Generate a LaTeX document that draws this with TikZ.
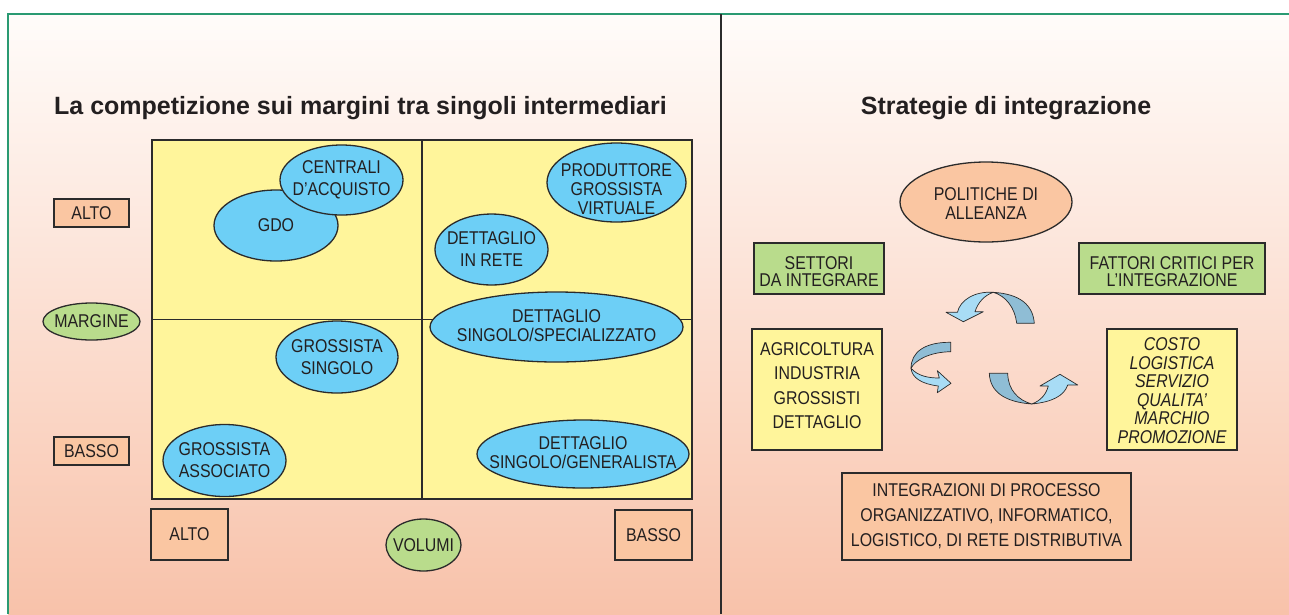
\documentclass[tikz,border=0pt]{standalone}
\usepackage{fontspec}
\setmainfont{Liberation Sans}
\newfontfamily\bodyfont{Liberation Sans}[FakeStretch=0.86]
\usetikzlibrary{shapes.geometric}
\definecolor{txt}{HTML}{231F20}
\definecolor{edge}{HTML}{2B2B2B}
\definecolor{frame}{HTML}{2A9A72}
\definecolor{bgtop}{HTML}{FFFCFA}
\definecolor{bgbot}{HTML}{F8C2AA}
\definecolor{gridyellow}{HTML}{FFF59B}
\definecolor{bluefill}{HTML}{6DCFF6}
\definecolor{peach}{HTML}{FAC6A2}
\definecolor{greenfill}{HTML}{B9DC8C}
\definecolor{arrowdark}{HTML}{8FBDD5}
\definecolor{arrowlight}{HTML}{A8DCF5}
\tikzset{
  body/.style={font=\bodyfont\fontsize{18.5}{19}\selectfont, text=txt, align=center},
  wide/.style={font=\bodyfont\fontsize{18.5}{22}\selectfont},
  every label/.style={body, inner sep=0pt},
  bubble/.style={ellipse, draw=edge, line width=1.3pt, fill=bluefill, inner sep=0pt},
  rbox/.style={body, rectangle, draw=edge, line width=1.3pt, inner sep=0pt},
  peachbox/.style={rbox, fill=peach},
  greenbox/.style={rbox, fill=greenfill},
  yellowbox/.style={rbox, fill=gridyellow},
  titletext/.style={font=\bfseries\fontsize{25}{28}\selectfont, text=txt, inner sep=0pt},
  ribbon/.style={draw=edge, line width=0.7pt, line join=round},
}
\begin{document}
\begin{tikzpicture}[x=1pt, y=-1pt]
\useasboundingbox (0,0) rectangle (1289,614);
\fill[white] (0,0) rectangle (1289,614);
\shade[top color=bgtop, bottom color=bgbot] (8,14) rectangle (1289,614);
\draw[frame, line width=2pt] (8,614) -- (8,14) -- (1289,14);
\coordinate (divtop) at (721,14);
\coordinate (divbot) at (721,614);
\draw[edge, line width=2.2pt] (divtop) -- (divbot);

% titles
\node[titletext] (title1) at (360.5,108.5) {La competizione sui margini tra singoli intermediari};
\node[titletext] (title2) at (1006,108.5) {Strategie di integrazione};

% quadrant grid
\node[rectangle, draw=edge, line width=1.5pt, fill=gridyellow, minimum width=540pt, minimum height=359pt, inner sep=0pt] (grid) at (422,319.5) {};
\draw[edge, line width=1.5pt] (grid.north) -- (grid.south);
\draw[edge, line width=1.5pt] (grid.west) -- (grid.east);

% bubbles
\node[bubble, minimum width=124pt, minimum height=71pt, label=center:GDO] (gdo) at (276,225.5) {};
\node[bubble, minimum width=123pt, minimum height=70pt, label={[wide]center:{CENTRALI\\D’ACQUISTO}}] (centrali) at (341.5,180) {};
\node[bubble, minimum width=139pt, minimum height=79pt, label={[yshift=-6.5pt]center:{PRODUTTORE\\GROSSISTA\\VIRTUALE}}] (produttore) at (616.5,182.5) {};
\node[bubble, minimum width=113pt, minimum height=71pt, label={[wide]center:{DETTAGLIO\\IN RETE}}] (rete) at (491.5,249.5) {};
\node[bubble, minimum width=253pt, minimum height=70pt, label={[yshift=1pt]center:{DETTAGLIO\\SINGOLO/SPECIALIZZATO}}] (specializzato) at (556.5,327) {};
\node[bubble, minimum width=122pt, minimum height=72pt, label={[wide]center:{GROSSISTA\\SINGOLO}}] (singolo) at (337,357) {};
\node[bubble, minimum width=123pt, minimum height=72pt, label={[wide]center:{GROSSISTA\\ASSOCIATO}}] (associato) at (224.5,460.5) {};
\node[bubble, minimum width=212pt, minimum height=68pt, label={[yshift=1pt]center:{DETTAGLIO\\SINGOLO/GENERALISTA}}] (generalista) at (583,454) {};

% axis labels
\node[peachbox, minimum width=75pt, minimum height=28pt] (altoy) at (91.5,213) {ALTO};
\node[ellipse, draw=edge, line width=1.3pt, fill=greenfill, inner sep=0pt, minimum width=97pt, minimum height=37pt, label=center:MARGINE] (margine) at (91.5,321.5) {};
\node[peachbox, minimum width=75pt, minimum height=28pt] (bassoy) at (91.5,451) {BASSO};
\node[peachbox, minimum width=77pt, minimum height=51pt] (altox) at (189.5,534.5) {ALTO};
\node[ellipse, draw=edge, line width=1.3pt, fill=greenfill, inner sep=0pt, minimum width=75pt, minimum height=52pt, label=center:VOLUMI] (volumi) at (423.5,545) {};
\node[peachbox, minimum width=77pt, minimum height=50pt] (bassox) at (653.5,535) {BASSO};

% right panel
\node[ellipse, draw=edge, line width=1.3pt, fill=peach, inner sep=0pt, minimum width=172pt, minimum height=80pt, label={[yshift=-1.5pt]center:{POLITICHE DI\\ALLEANZA}}] (politiche) at (986,202) {};
\node[greenbox, minimum width=130pt, minimum height=51pt, label={[font=\bodyfont\fontsize{18.5}{17}\selectfont, yshift=-3pt]center:{SETTORI\\DA INTEGRARE}}] (settori) at (819,268.5) {};
\node[greenbox, minimum width=186pt, minimum height=51pt, label={[font=\bodyfont\fontsize{18.5}{17}\selectfont, yshift=-3pt]center:{FATTORI CRITICI PER\\L’INTEGRAZIONE}}] (fattori) at (1172,268.5) {};
\node[yellowbox, minimum width=130pt, minimum height=121pt, label={[font=\bodyfont\fontsize{18.5}{24.5}\selectfont, yshift=4pt]center:{AGRICOLTURA\\INDUSTRIA\\GROSSISTI\\DETTAGLIO}}] (settlist) at (817,389.5) {};
\node[yellowbox, minimum width=130pt, minimum height=121pt, label={[font=\bodyfont\itshape\fontsize{18.5}{18.5}\selectfont, yshift=-1pt]center:{COSTO\\LOGISTICA\\SERVIZIO\\QUALITA’\\MARCHIO\\PROMOZIONE}}] (fattlist) at (1172,389.5) {};
\node[peachbox, minimum width=289pt, minimum height=87pt, font=\bodyfont\fontsize{18.5}{25}\selectfont] (integrazioni) at (986.5,516.5) {INTEGRAZIONI DI PROCESSO\\ORGANIZZATIVO, INFORMATICO,\\LOGISTICO, DI RETE DISTRIBUTIVA};

% curved ribbon arrows
% top arrow
\filldraw[ribbon, fill=arrowdark] (993.3,292.3) .. controls (1020,294) and (1033,305) .. (1034.3,323.3) -- (1016.7,323.3) .. controls (1015,308) and (1006,296) .. (993.3,292.3) -- cycle;
\filldraw[ribbon, fill=arrowlight] (993.3,292.3) .. controls (975,291) and (960,300) .. (957.5,312.2) -- (946,312.3) -- (963.3,321.7) -- (983.3,311.7) -- (975,311.7) .. controls (978,302) and (985,295) .. (993.3,292.3) -- cycle;
% left arrow
\filldraw[ribbon, fill=arrowdark] (950.7,342.3) .. controls (925,342) and (911,352) .. (911,368.3) .. controls (915,360) and (930,352) .. (950.7,351.7) -- cycle;
\filldraw[ribbon, fill=arrowlight] (911,368.3) .. controls (918,376) and (928,378) .. (939.3,378) -- (937.3,370.7) -- (951,383.3) -- (937.3,392.7) -- (938.3,386) .. controls (922,384) and (912,378) .. (911,368.3) -- cycle;
% bottom arrow
\filldraw[ribbon, fill=arrowdark] (989.3,373.3) -- (1007.7,373.3) .. controls (1008,390) and (1018,400) .. (1031.7,404) .. controls (1005,402) and (990,392) .. (989.3,373.3) -- cycle;
\filldraw[ribbon, fill=arrowlight] (1031.7,404) .. controls (1052,402) and (1064,396) .. (1067.7,385) -- (1077.7,385) -- (1060,374.3) -- (1040,386) -- (1048.3,386) .. controls (1046,395) and (1040,401) .. (1031.7,404) -- cycle;
\end{tikzpicture}
\end{document}
